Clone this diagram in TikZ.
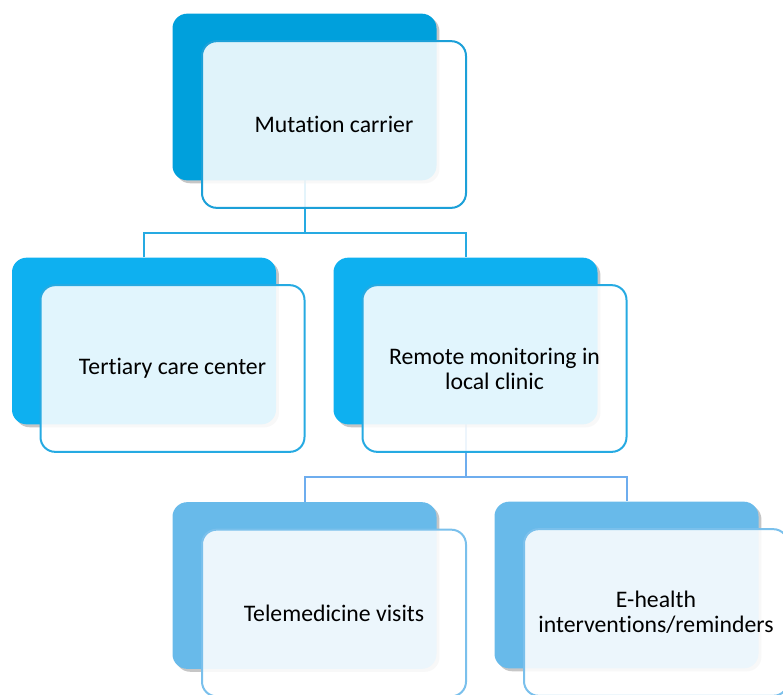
\documentclass[tikz,border=0pt]{standalone}
\usepackage{fontspec}
\setmainfont{Carlito}[Ligatures=NoCommon]
\usetikzlibrary{shadows,backgrounds}
\definecolor{topfill}{RGB}{0,160,220}
\definecolor{midfill}{RGB}{14,176,240}
\definecolor{lowfill}{RGB}{104,186,234}
\definecolor{topline}{RGB}{28,160,216}
\definecolor{midline}{RGB}{38,170,226}
\definecolor{lowline}{RGB}{122,192,236}
\tikzset{
   boxback/.style={rectangle,rounded corners=11pt,minimum width=198pt,minimum height=125pt,
      drop shadow={shadow xshift=2.2pt,shadow yshift=-2.2pt,opacity=.45}},
   boxfront/.style={rectangle,rounded corners=11pt,minimum width=198pt,minimum height=125pt,
      line width=1.5pt,fill=white,fill opacity=.88,text opacity=1,align=center,
      font=\fontsize{17.8}{18.8}\selectfont},
   link/.style={line width=1.5pt}
}

\begin{document}
\begin{tikzpicture}[x=0.75pt,y=-0.75pt]
   \useasboundingbox (0,0) rectangle (783,694);
   \node[boxback,fill=topfill] (mcb) at (304.5,97) {};
   \node[boxfront,draw=topline] (mcf) at (334,124.5) {Mutation carrier};
   \node[boxback,fill=midfill] (tcb) at (144,341) {};
   \node[boxfront,draw=midline] (tcf) at (172.5,368.5) {Tertiary care center};
   \node[boxback,fill=midfill] (rmb) at (465.5,341) {};
   \node[boxfront,draw=midline] (rmf) at (494.5,368.5) {Remote monitoring in\\local clinic};
   \node[boxback,fill=lowfill] (tvb) at (304.5,585.5) {};
   \node[boxfront,draw=lowline] (tvf) at (334,613) {Telemedicine visits};
   \node[boxback,fill=lowfill] (ehb) at (626.5,585) {};
   \node[boxfront,draw=lowline] (ehf) at (656,612.5) {E-health\\interventions/reminders};
   \begin{scope}[on background layer]
   \coordinate (s1) at (304.5,232.5);
   \coordinate (s2) at (465.5,477);
   \draw[link,color=midline] (mcb.center) -- (s1);
   \draw[link,color=midline] (tcb.north) |- (s1) -| (rmb.north);
   \draw[link,color=lowline!90!blue] (rmb.center) -- (s2);
   \draw[link,color=lowline!90!blue] (tvb.north) |- (s2) -| (ehb.north);
   \end{scope}
\end{tikzpicture}
\end{document}
